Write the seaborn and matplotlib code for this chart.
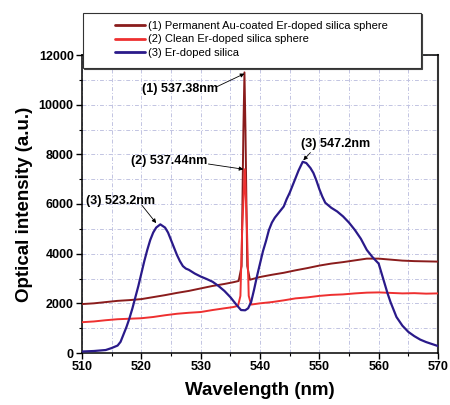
import matplotlib
matplotlib.use("Agg")
import matplotlib.pyplot as plt
from matplotlib.patches import Rectangle
from matplotlib.lines import Line2D
from matplotlib.ticker import MultipleLocator
import seaborn as sns
import pandas as pd

# ---- data ----
wl_au = [510, 512, 514, 516, 518, 520, 522, 524, 526, 528, 530, 532, 534, 535.5, 536.4,
         536.9, 537.2, 537.38, 537.55, 537.85, 538.3, 540, 542, 544, 546, 548, 550,
         552, 554, 556, 558, 560, 562, 564, 566, 568, 570]
int_au = [1970, 2000, 2050, 2100, 2130, 2170, 2250, 2330, 2420, 2500, 2600, 2700, 2780, 2850, 2900,
          3500, 9000, 11300, 9000, 3500, 2950, 3060, 3150, 3230, 3330, 3420, 3520,
          3600, 3660, 3730, 3800, 3800, 3760, 3720, 3700, 3690, 3680]

wl_clean = [510, 512, 514, 516, 518, 520, 522, 524, 526, 528, 530, 532, 534, 535.5, 536.3,
            536.7, 537.0, 537.44, 537.8, 538.1, 538.5, 540, 542, 544, 546, 548, 550,
            552, 554, 556, 558, 560, 562, 564, 566, 568, 570]
int_clean = [1240, 1270, 1320, 1360, 1380, 1400, 1450, 1520, 1580, 1620, 1650, 1730, 1800, 1850, 1900,
             2300, 5000, 7400, 5000, 2300, 1950, 2000, 2050, 2120, 2200, 2240, 2300,
             2340, 2360, 2400, 2430, 2440, 2420, 2400, 2410, 2390, 2400]

wl_er = [510, 512, 514, 515, 516, 516.5, 517, 517.5, 518, 518.5, 519, 519.5, 520, 520.5, 521,
         521.5, 522, 522.5, 523.2, 524, 524.5, 525, 525.5, 526, 526.5, 527, 527.5, 528, 529,
         530, 531, 532, 533, 534, 535, 536, 536.8, 537.5, 538, 538.5, 539, 539.5, 540, 540.5,
         541, 541.5, 542, 542.5, 543, 543.5, 544, 544.5, 545, 545.5, 546, 546.5, 547.2, 547.8,
         548.5, 549, 549.5, 550, 550.5, 551, 551.5, 552, 553, 554, 555, 556, 557, 558, 559,
         560, 560.5, 561, 561.5, 562, 562.5, 563, 564, 565, 566, 567, 568, 569, 570]
int_er = [60, 80, 120, 200, 300, 450, 750, 1050, 1400, 1800, 2250, 2700, 3200, 3700, 4150,
          4550, 4850, 5050, 5180, 5050, 4850, 4550, 4250, 3950, 3700, 3500, 3400, 3350, 3200,
          3080, 2980, 2870, 2700, 2500, 2250, 1950, 1730, 1720, 1800, 2050, 2550, 3100, 3600, 4100,
          4500, 4950, 5250, 5450, 5600, 5750, 5900, 6200, 6450, 6750, 7050, 7350, 7700, 7650,
          7450, 7250, 6950, 6600, 6300, 6050, 5950, 5850, 5700, 5500, 5250, 4950, 4600, 4150, 3850,
          3600, 3200, 2800, 2400, 2050, 1750, 1450, 1100, 850, 680, 540, 440, 360, 280]

labels = ["(1) Permanent Au-coated Er-doped silica sphere",
          "(2) Clean Er-doped silica sphere",
          "(3) Er-doped silica"]
colors = ["#8a1c1c", "#ee3030", "#2a1a8a"]

x_ticks = [510, 520, 530, 540, 550, 560, 570]
y_ticks = [0, 2000, 4000, 6000, 8000, 10000, 12000]

# ---- figure ----
sns.set_style("ticks")
plt.rcParams["font.family"] = ["Liberation Sans", "DejaVu Sans"]
plt.rcParams["text.color"] = "black"
plt.rcParams["axes.labelcolor"] = "black"
plt.rcParams["xtick.color"] = "black"
plt.rcParams["ytick.color"] = "black"

fig = plt.figure(figsize=(4.5, 4.05), dpi=100)
ax = fig.add_axes([82 / 450, 52 / 405, 356 / 450, 298 / 405])

series = [(wl_au, int_au), (wl_clean, int_clean), (wl_er, int_er)]
lws = [1.4, 1.4, 1.6]
for (xs, ys), lab, c, lw in zip(series, labels, colors, lws):
    df = pd.DataFrame({"wl": xs, "I": ys})
    sns.lineplot(data=df, x="wl", y="I", ax=ax, color=c, lw=lw, sort=False,
                 estimator=None, legend=False, zorder=3)

ax.set_xlim(510, 570)
ax.set_ylim(0, 12000)
ax.set_xticks(x_ticks)
ax.set_yticks(y_ticks)
ax.xaxis.set_minor_locator(MultipleLocator(5))
ax.yaxis.set_minor_locator(MultipleLocator(1000))
ax.grid(True, which="both", color="#c2c4e2", linestyle=(0, (4, 2, 1, 2)), lw=0.7, zorder=0)
ax.set_axisbelow(True)
ax.tick_params(which="major", direction="out", length=4, width=1, labelsize=9, pad=2,
               top=False, right=False, colors="black")
ax.tick_params(which="minor", direction="out", length=2.5, width=0.8, top=False, right=False,
               colors="black")
for lab in ax.get_xticklabels() + ax.get_yticklabels():
    lab.set_fontweight("bold")
for s in ax.spines.values():
    s.set_visible(True)
    s.set_color("black")
    s.set_linewidth(1.1)
ax.spines["right"].set_color("#333333")
ax.spines["right"].set_linewidth(1.5)

ax.set_xlabel("Wavelength (nm)", fontsize=13.5, fontweight="bold", labelpad=6, color="black")
ax.set_ylabel("Optical intensity (a.u.)", fontsize=13.5, fontweight="bold", labelpad=4,
              color="black")

# ---- annotations ----
ann_kw = dict(fontsize=9, fontweight="bold", ha="center", va="center", zorder=6, color="black")
arrow = dict(arrowstyle="-|>", lw=0.6, color="black", mutation_scale=6, shrinkA=0, shrinkB=0)
ax.text(526.5, 10630, "(1) 537.38nm", **ann_kw)
ax.annotate("", xy=(537.38, 11250), xytext=(532.7, 10720), arrowprops=arrow)
ax.text(524.75, 7730, "(2) 537.44nm", **ann_kw)
ax.annotate("", xy=(537.2, 7400), xytext=(531.3, 7610), arrowprops=arrow)
ax.text(516.5, 6120, "(3) 523.2nm", **ann_kw)
ax.annotate("", xy=(522.5, 5230), xytext=(520.06, 5960), arrowprops=arrow)
ax.text(552.8, 8420, "(3) 547.2nm", **ann_kw)
ax.annotate("", xy=(547.3, 7760), xytext=(548.5, 8070), arrowprops=arrow)

# ---- legend box (with slight drop shadow) ----
shadow = Rectangle((84 / 450, (405 - 69) / 405), 338 / 450, 55 / 405, transform=fig.transFigure,
                   facecolor="#444444", edgecolor="#444444", lw=0.8, zorder=4)
fig.add_artist(shadow)
rect = Rectangle((83 / 450, (405 - 68) / 405), 338 / 450, 55 / 405, transform=fig.transFigure,
                 facecolor="white", edgecolor="#333333", lw=0.8, zorder=4.1)
fig.add_artist(rect)
handles = [Line2D([], [], color=c, lw=2) for c in colors]
leg = fig.legend(handles, labels, loc="center", bbox_to_anchor=(251.5 / 450, 1 - 39.5 / 405),
                 frameon=False, fontsize=8, handlelength=2.7, handletextpad=0.3,
                 labelspacing=0.3, borderpad=0, labelcolor="black")
leg.set_zorder(5)

fig.savefig("out.png", dpi=100)
